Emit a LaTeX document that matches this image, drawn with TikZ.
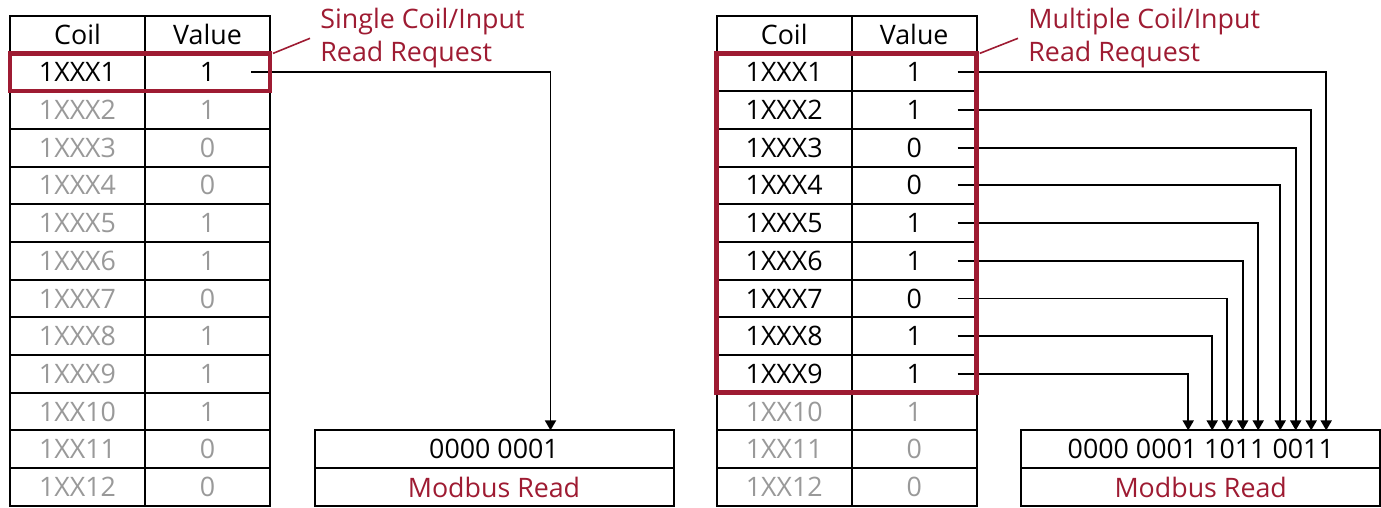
\documentclass[tikz,border=0pt]{standalone}
\usepackage{fontspec}
\setmainfont{Open Sans}
\usetikzlibrary{positioning}
\usetikzlibrary{arrows.meta}
\definecolor{selred}{RGB}{158,27,50}
\tikzset{>={Triangle[width=5.5pt,length=5pt]}}

\begin{document}
\begin{tikzpicture}[x=0.5pt, y=-0.5pt,
  font=\fontsize{13.4pt}{16.5pt}\selectfont,
  cell/.style={draw, line width=1pt, minimum height=18.85pt, inner sep=0pt, outer sep=0pt},
  coil/.style={cell, minimum width=67.5pt},
  val/.style={cell, minimum width=62.5pt},
  bits/.style={cell, minimum width=179.5pt},
  sel/.style={draw=selred, line width=2.4pt},
  lead/.style={draw=selred, line width=0.8pt},
  note/.style={text=selred, align=left, inner sep=0pt, anchor=north west},
  wire/.style={draw, line width=0.9pt, ->}]
\useasboundingbox (0,0) rectangle (1381,508);

% the two coil tables
\foreach \side/\n/\x in {L/1/10, R/9/716.7} {
  \node (\side0c) [coil, anchor=north west] at (\x,15.7) {Coil};
  \node (\side0v) [val, right=0pt of \side0c] {Value};
  \foreach \cn/\vl [count=\i] in {1XXX1/1,1XXX2/1,1XXX3/0,1XXX4/0,1XXX5/1,1XXX6/1,1XXX7/0,1XXX8/1,1XXX9/1,1XX10/1,1XX11/0,1XX12/0} {
    \pgfmathtruncatemacro\j{\i-1}
    \pgfmathtruncatemacro\shade{\i>\n ? 40 : 100}
    \node (\side\i c) [coil, below=0pt of \side\j c, text=black!\shade] {\cn};
    \node (\side\i v) [val, right=0pt of \side\i c, text=black!\shade] {\vl};
  }
}

% request labels
\node (Lnote) [note] at (320,8) {Single Coil/Input\\Read Request};
\node (Rnote) [note] at (1028,8) {Multiple Coil/Input\\Read Request};

% modbus read boxes
\node (Lbits) [bits, right=22.25pt of L11v] {0000 0001};
\node (Lread) [bits, below=0pt of Lbits, text=selred] {Modbus Read};
\node (Rbits) [bits, right=22.25pt of R11v] {0000 0001 1011 0011};
\node (Rread) [bits, below=0pt of Rbits, text=selred] {Modbus Read};

% wires
\coordinate (Lb1) at ([xshift=118pt]Lbits.north west);
\draw[wire] ([xshift=-9.5pt]L1v.east) -| (Lb1);
\foreach \dx [count=\i] in {152.5,145,137.25,129.5,118.5,110.75,103,95.5,83.5} {
  \coordinate (Rb\i) at ([xshift=\dx pt]Rbits.north west);
  \draw[wire] ([xshift=-9.5pt]R\i v.east) -| (Rb\i);
}

% selection frames
\draw[sel] (L1c.north west) rectangle (L1v.south east);
\draw[sel] (R1c.north west) rectangle (R9v.south east);
\draw[lead] ([xshift=1.5pt]L1v.north east) -- ([xshift=-5pt]Lnote.west);
\draw[lead] ([xshift=1.5pt]R1v.north east) -- ([xshift=-5pt]Rnote.west);
\end{tikzpicture}
\end{document}
